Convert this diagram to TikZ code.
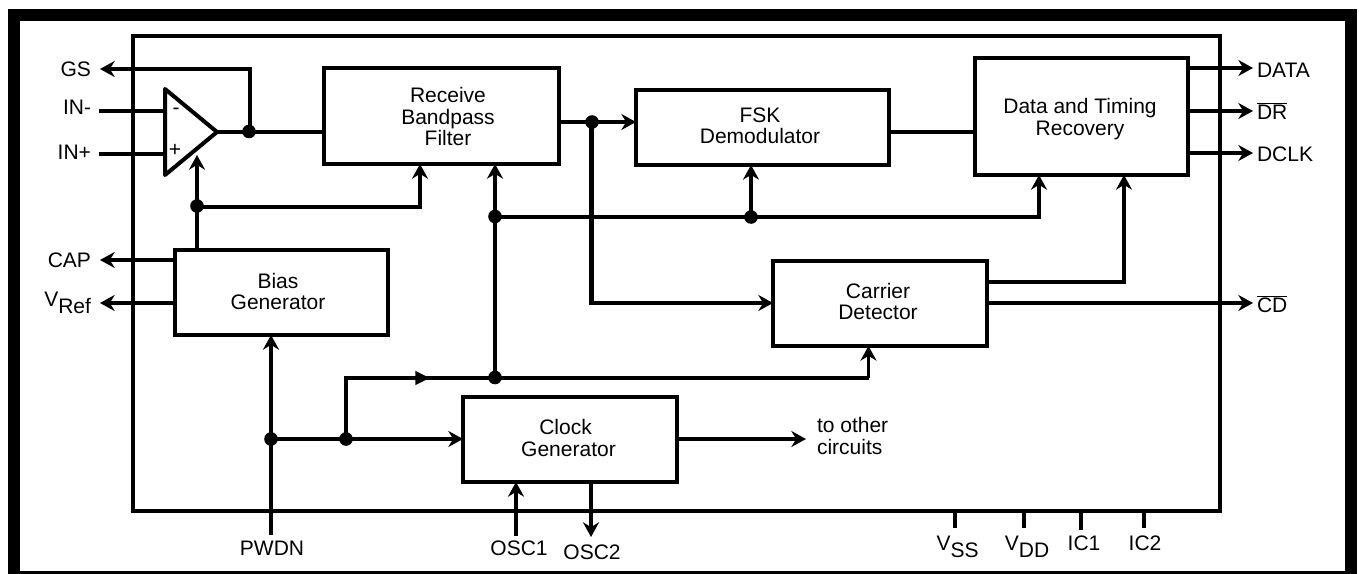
\documentclass[tikz,border=0pt]{standalone}
\usepackage{fontspec}
\setmainfont{Liberation Sans}
\usetikzlibrary{arrows.meta}
\tikzset{
  block/.style={draw=black,fill=white,line width=2.9pt,rectangle,outer sep=0pt,inner sep=0pt},
  lab/.style={inner sep=0pt,outer sep=0pt,align=center,font=\fontsize{15.75}{15.9}\selectfont},
  dot/.style={circle,fill=black,inner sep=0pt,outer sep=0pt,minimum size=10.2pt},
  head/.tip={Stealth[length=11pt,width=12pt,inset=3.6pt]},
  wire/.style={line width=2.5pt},
  thickwire/.style={line width=3.1pt},
  arr/.style={wire,-head},
  thickarr/.style={thickwire,-head},
  frameline/.style={draw=black,line width=2.5pt},
}
\begin{document}
\begin{tikzpicture}[x=0.75pt,y=-0.75pt]
\useasboundingbox (0,0) rectangle (1359,574);
\draw[black,line width=9pt] (14,15.5) rectangle (1351,577);
\draw[frameline] (133,36) rectangle (1220,511);

% blocks
\node[block,minimum width=176.25pt,minimum height=72pt] (recv) at (441.5,116) {};
\node[block,minimum width=189.75pt,minimum height=56.25pt] (fsk) at (762.5,127.5) {};
\node[block,minimum width=159.75pt,minimum height=87.75pt] (dtr) at (1081.5,116.5) {};
\node[block,minimum width=160.5pt,minimum height=63.75pt] (cdet) at (880,303.5) {};
\node[block,minimum width=159.75pt,minimum height=63.75pt] (bias) at (281.5,292.5) {};
\node[block,minimum width=160.5pt,minimum height=63.75pt] (clk) at (570,439.5) {};

% block texts
\node[lab] (recvT) at (448,116.5) {Receive\\Bandpass\\Filter};
\node[lab] (fskT) at (760,126) {FSK\\Demodulator};
\node[lab] (dtrT) at (1080,119) {Data and Timing\\Recovery};
\node[lab] (cdetT) at (878,301.5) {Carrier\\Detector};
\node[lab] (biasT) at (278,291.5) {Bias\\Generator};
\node[lab] (clkT) at (568.5,438) {Clock\hspace*{4.5pt}\\Generator};

% amplifier
\coordinate (ampT) at (165,89);
\coordinate (ampB) at (165,175);
\coordinate (ampO) at (217,132);
\draw[line width=3pt,line join=round,fill=white] (ampT) -- (ampO) -- (ampB) -- cycle;
\node[lab] (minus) at (176,111) {-};
\node[lab] (plus) at (175,150) {+};

% text labels
\node[lab,anchor=east] (gs) at (91,69) {GS};
\node[lab,anchor=east] (inm) at (91,107) {IN-};
\node[lab,anchor=east] (inp) at (91,152) {IN+};
\node[lab,anchor=east] (cap) at (91,260) {CAP};
\node[lab,anchor=east] (vref) at (91,303) {V\raisebox{-5pt}{Ref}};
\node[lab,anchor=west] (data) at (1257,70) {DATA};
\node[lab,anchor=west] (dr) at (1257,111) {$\overline{\hbox{DR}}$};
\node[lab,anchor=west] (dclk) at (1257,154) {DCLK};
\node[lab,anchor=west] (cd) at (1257,304) {$\overline{\hbox{CD}}$};
\node[lab,anchor=west,align=left] (other) at (817,436) {to other\\circuits};
\node[lab] (pwdn) at (272,548) {PWDN};
\node[lab] (osc1) at (519,548) {OSC1};
\node[lab] (osc2) at (592,552) {OSC2};
\node[lab] (vss) at (957.5,547) {V\raisebox{-5pt}{SS}};
\node[lab] (vdd) at (1027,547) {V\raisebox{-5pt}{DD}};
\node[lab] (ic1) at (1084,543) {IC1};
\node[lab] (ic2) at (1145,543) {IC2};

% junctions
\node[dot] (jA) at (249,131.5) {};
\node[dot] (jB) at (197,206) {};
\node[dot] (jC) at (592,122) {};
\node[dot] (jD) at (495,216.5) {};
\node[dot] (jE) at (751,217) {};
\node[dot] (jF) at (495,377.5) {};
\node[dot] (jG) at (271,439) {};
\node[dot] (jH) at (346,439) {};

% pin ends
\coordinate (gsE) at (100,69);
\coordinate (inmE) at (99,111);
\coordinate (inpE) at (99,154);
\coordinate (capE) at (100,260);
\coordinate (vrefE) at (100,303);
\coordinate (dataE) at (1253,68);
\coordinate (drE) at (1253,111);
\coordinate (dclkE) at (1253,153);
\coordinate (cdE) at (1253,303);
\coordinate (otherE) at (806,439);
\coordinate (pwdnE) at (271,535);
\coordinate (osc1E) at (516,536);
\coordinate (osc2E) at (591,537);
\coordinate (ampBias) at (197,155);
\coordinate (midArrow) at (430,378);
\coordinate (busTurnA) at (420,207);
\coordinate (busTurnB) at (1039,217);
\coordinate (busTurnC) at (1124,282);
\coordinate (busTurnD) at (868.5,378);
\coordinate (jCturn) at (591.5,303);
\coordinate (jHturn) at (346,378);
\coordinate (busFromB) at (197,207);
\coordinate (gsTurn) at (250,69);
\coordinate (fskOut) at (889,132);
\coordinate (cdetOut) at (987,282);

% connectors
\draw[arr] (jA.center -| gsTurn) -- (gsTurn) -- (gsE);
\draw[wire] (inmE) -- (inmE -| ampT);
\draw[thickwire] (inpE) -- (inpE -| ampT);
\draw[wire] (ampO) -- (recv.west |- ampO);
\draw[thickarr] (jB.center |- bias.north) -- (ampBias);
\draw[arr] (busFromB) -- (busTurnA) -- (busTurnA |- recv.south);
\draw[arr] (bias.west |- capE) -- (capE);
\draw[arr] (bias.west |- vrefE) -- (vrefE);
\draw[thickarr] (pwdnE) -- (pwdnE |- bias.south);
\draw[arr] (jG.center) -- (jG.center -| clk.west);
\draw[wire] (jH.center) -- (jHturn) -- (jHturn -| busTurnD);
\draw[wire,-{Stealth[length=11pt,width=10pt,inset=0pt]}] (jHturn) -- (midArrow);
\draw[arr] (busTurnD) -- (busTurnD |- cdet.south);
\draw[thickarr] (jF.center) -- (jF.center |- recv.south);
\draw[thickarr] (jD.center |- busTurnB) -- (busTurnB) -- (busTurnB |- dtr.south);
\draw[thickarr] (jE.center) -- (jE.center |- fsk.south);
\draw[arr] (recv.east |- jC) -- (fsk.west |- jC);
\draw[thickwire,line cap=rect] (jCturn |- jC) -- (jCturn);
\draw[arr] (jCturn) -- (cdet.west |- jCturn);
\draw[wire] (fskOut) -- (dtr.west |- fskOut);
\draw[arr] (dtr.east |- dataE) -- (dataE);
\draw[arr] (dtr.east |- drE) -- (drE);
\draw[thickarr] (dtr.east |- dclkE) -- (dclkE);
\draw[thickwire,line cap=rect] (cdetOut) -- (busTurnC);
\draw[arr] (busTurnC) -- (busTurnC |- dtr.south);
\draw[arr] (cdet.east |- cdE) -- (cdE);
\draw[arr] (clk.east |- otherE) -- (otherE);
\draw[thickarr] (osc1E) -- (osc1E |- clk.south);
\draw[thickarr] (osc2E |- clk.south) -- (osc2E);
\coordinate (vssT) at (955,511);
\coordinate (vddT) at (1024,511);
\coordinate (ic1T) at (1081,511);
\coordinate (ic2T) at (1144,511);
\draw[thickwire] (vssT) -- ++(0,17);
\draw[thickwire] (vddT) -- ++(0,17);
\draw[thickwire] (ic1T) -- ++(0,19);
\draw[thickwire] (ic2T) -- ++(0,17);
\end{tikzpicture}
\end{document}
